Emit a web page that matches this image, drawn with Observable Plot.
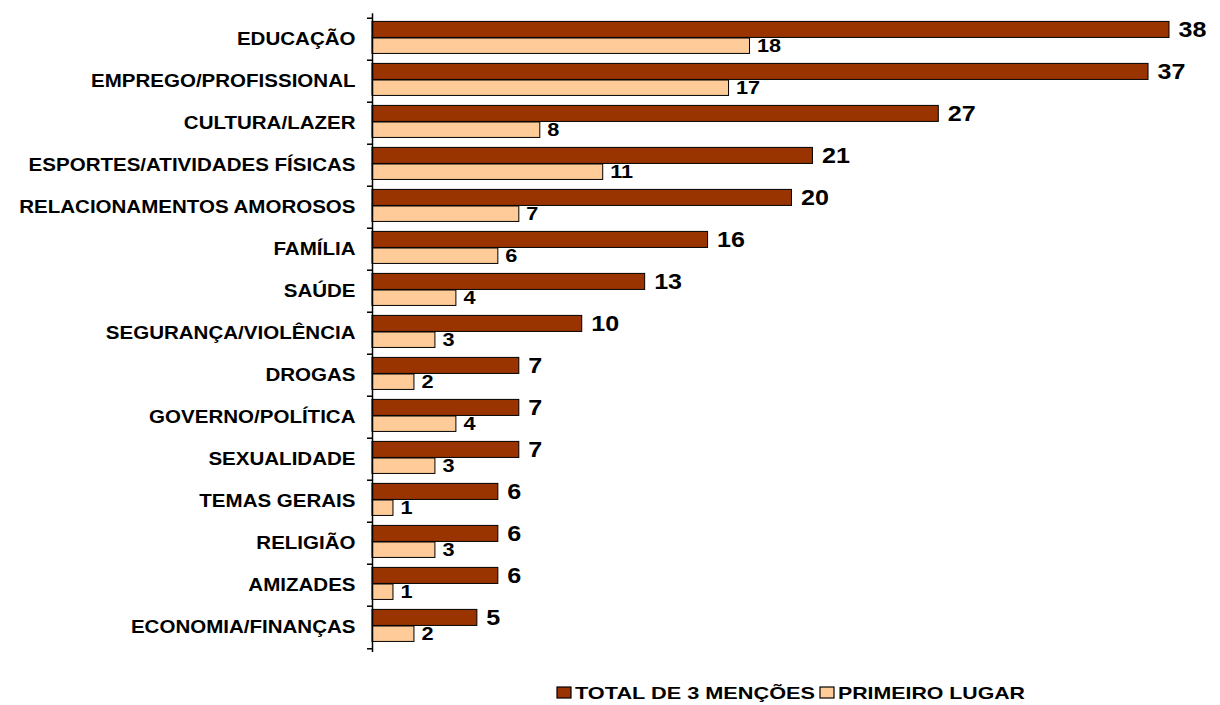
<!DOCTYPE html>
<html>
<head>
<meta charset="utf-8">
<script src="https://cdn.jsdelivr.net/npm/d3@7"></script>
<script src="https://cdn.jsdelivr.net/npm/@observablehq/plot@0.6"></script>
<style>
  html, body { margin: 0; padding: 0; background: #fff; }
  #wrap { position: relative; width: 1220px; height: 705px; font-family: "Liberation Sans", Arial, sans-serif; }
  #legend { position: absolute; left: 0; top: 665px; }
</style>
</head>
<body>
<div id="wrap"></div>
<script>
const categories = [
  "EDUCAÇÃO", "EMPREGO/PROFISSIONAL", "CULTURA/LAZER", "ESPORTES/ATIVIDADES FÍSICAS",
  "RELACIONAMENTOS AMOROSOS", "FAMÍLIA", "SAÚDE", "SEGURANÇA/VIOLÊNCIA", "DROGAS",
  "GOVERNO/POLÍTICA", "SEXUALIDADE", "TEMAS GERAIS", "RELIGIÃO", "AMIZADES", "ECONOMIA/FINANÇAS"
];
const totalValues = [38, 37, 27, 21, 20, 16, 13, 10, 7, 7, 7, 6, 6, 6, 5];
const firstValues = [18, 17, 8, 11, 7, 6, 4, 3, 2, 4, 3, 1, 3, 1, 2];
const seriesNames = ["TOTAL DE 3 MENÇÕES", "PRIMEIRO LUGAR"];
const seriesColors = ["#993300", "#FFCC99"];

const rows = categories.map((c, i) => ({cat: c, total: totalValues[i], first: firstValues[i]}));

const H = 665, mTop = 13.3, mBottom = 13.1;
const bw = (H - mTop - mBottom) / categories.length;
const half = bw / 2;
const font = "Liberation Sans, Arial, sans-serif";

const chart = Plot.plot({
  width: 1220,
  height: H,
  marginLeft: 372,
  marginRight: 51,
  marginTop: mTop,
  marginBottom: mBottom,
  x: {domain: [0, 38], axis: null},
  y: {domain: categories, padding: 0, axis: null},
  style: {fontFamily: font, background: "white", color: "black"},
  marks: [
    Plot.barX(rows, {y: "cat", x: "total", fill: seriesColors[0], stroke: "black", strokeWidth: 1, insetTop: 3.4, insetBottom: bw - 20}),
    Plot.barX(rows, {y: "cat", x: "first", fill: seriesColors[1], stroke: "black", strokeWidth: 1, insetTop: 20, insetBottom: bw - 36}),
    Plot.ruleX([0], {stroke: "black", strokeWidth: 1.5}),
    Plot.ruleY(categories, {y: d => d, x1: 0, x2: 0, insetLeft: -5, dy: -half, stroke: "black", strokeWidth: 1.5}),
    Plot.ruleY([categories[categories.length - 1]], {y: d => d, x1: 0, x2: 0, insetLeft: -5, dy: half, stroke: "black", strokeWidth: 1.5}),
    Plot.text(categories, {x: 0, y: d => d, text: d => d, textAnchor: "end", dx: -17, fontSize: 18, fontWeight: "bold", fill: "black"}),
    Plot.text(rows, {y: "cat", x: "total", text: d => String(d.total), textAnchor: "start", dx: 9, dy: -(half - 11.7), fontSize: 22, fontWeight: "bold", fill: "black"}),
    Plot.text(rows, {y: "cat", x: "first", text: d => String(d.first), textAnchor: "start", dx: 7, dy: 28 - half, fontSize: 19, fontWeight: "bold", fill: "black"})
  ]
});

const wrap = document.getElementById("wrap");
wrap.appendChild(chart);

// horizontal stretch of text to mimic the reference rendering
const stretch = 1.14;
chart.querySelectorAll("text").forEach(t => {
  const len = t.getComputedTextLength();
  if (len > 0) {
    t.setAttribute("textLength", (len * stretch).toFixed(1));
    t.setAttribute("lengthAdjust", "spacingAndGlyphs");
  }
});

// legend below the chart
const ns = "http://www.w3.org/2000/svg";
const leg = document.createElementNS(ns, "svg");
leg.setAttribute("id", "legend");
leg.setAttribute("width", 1220);
leg.setAttribute("height", 40);
const legItems = [
  {x: 557, w: 240},
  {x: 820, w: 187}
];
seriesNames.forEach((name, i) => {
  const r = document.createElementNS(ns, "rect");
  r.setAttribute("x", legItems[i].x);
  r.setAttribute("y", 22);
  r.setAttribute("width", 14);
  r.setAttribute("height", 11);
  r.setAttribute("fill", seriesColors[i]);
  r.setAttribute("stroke", "black");
  r.setAttribute("stroke-width", 1.2);
  leg.appendChild(r);
  const t = document.createElementNS(ns, "text");
  t.setAttribute("x", legItems[i].x + 18);
  t.setAttribute("y", 34);
  t.setAttribute("font-family", font);
  t.setAttribute("font-size", 17);
  t.setAttribute("font-weight", "bold");
  t.setAttribute("textLength", legItems[i].w);
  t.setAttribute("lengthAdjust", "spacingAndGlyphs");
  t.textContent = name;
  leg.appendChild(t);
});
wrap.appendChild(leg);
</script>
</body>
</html>
